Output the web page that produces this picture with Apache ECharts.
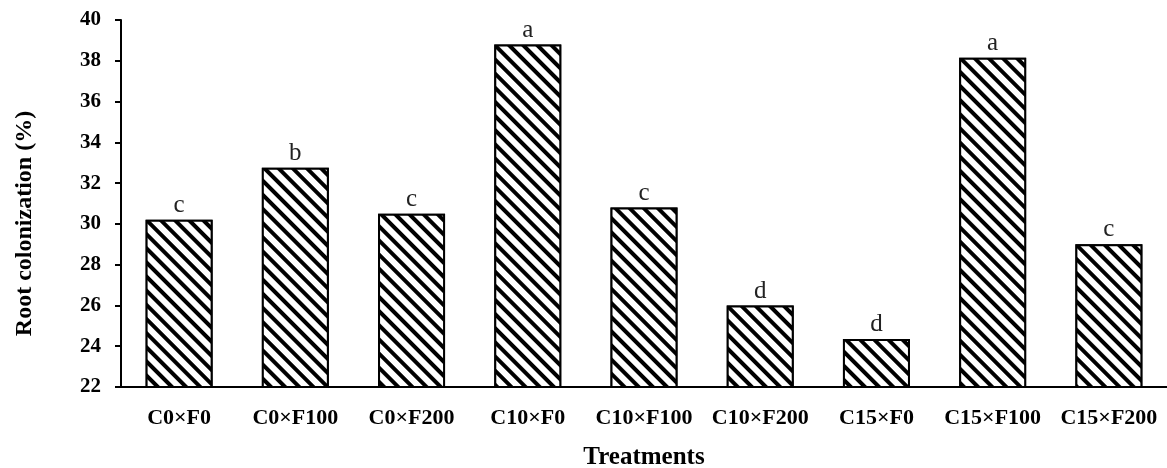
<!DOCTYPE html>
<html>
<head>
<meta charset="utf-8">
<script src="https://cdn.jsdelivr.net/npm/echarts@6/dist/echarts.min.js"></script>
<style>
  html, body { margin: 0; padding: 0; background: #fff; }
  #chart { width: 1167px; height: 468px; }
</style>
</head>
<body>
<div id="chart"></div>
<script>
const treatments = ['C0×F0', 'C0×F100', 'C0×F200', 'C10×F0', 'C10×F100', 'C10×F200', 'C15×F0', 'C15×F100', 'C15×F200'];
const colonization = [30.2, 32.75, 30.5, 38.8, 30.8, 26.0, 24.35, 38.15, 29.0];
const letters = ['c', 'b', 'c', 'a', 'c', 'd', 'd', 'a', 'c'];

const chart = echarts.init(document.getElementById('chart'));
const serif = '"Liberation Serif", "Times New Roman", serif';

const option = {
  animation: false,
  aria: { enabled: true, decal: { show: true } },
  grid: { left: 121, right: 0, top: 20, bottom: 81, outerBoundsMode: 'none', containLabel: false },
  xAxis: {
    type: 'category',
    data: treatments,
    name: 'Treatments',
    nameLocation: 'middle',
    nameGap: 58,
    nameTextStyle: { fontFamily: serif, fontWeight: 'bold', fontSize: 25, color: '#000' },
    axisLine: { lineStyle: { color: '#000', width: 2 } },
    axisTick: { show: false },
    axisLabel: { fontFamily: serif, fontWeight: 'bold', fontSize: 22, color: '#000', margin: 20, interval: 0 }
  },
  yAxis: {
    type: 'value',
    min: 22,
    max: 40,
    interval: 2,
    name: 'Root colonization (%)',
    nameLocation: 'middle',
    nameGap: 84,
    nameTextStyle: { fontFamily: serif, fontWeight: 'bold', fontSize: 24, color: '#000', padding: [0, 40, 0, 0] },
    axisLine: { show: true, lineStyle: { color: '#000', width: 2 } },
    axisTick: { show: true, length: 6, lineStyle: { color: '#000', width: 2 } },
    splitLine: { show: false },
    axisLabel: { fontFamily: serif, fontWeight: 'bold', fontSize: 21, color: '#000', margin: 20 }
  },
  series: [{
    type: 'bar',
    data: colonization,
    barWidth: 67,
    itemStyle: {
      color: '#fff',
      borderColor: '#000',
      borderWidth: 2,
      decal: {
        symbol: 'rect',
        symbolSize: 1,
        color: '#000',
        backgroundColor: '#fff',
        dashArrayX: [1, 0],
        dashArrayY: [3.5, 5.8],
        rotation: Math.PI / 4
      }
    },
    label: {
      show: true,
      position: 'top',
      distance: 2,
      fontFamily: serif,
      fontSize: 25,
      color: '#222',
      formatter: p => letters[p.dataIndex]
    }
  }]
};
chart.setOption(option);
</script>
</body>
</html>
